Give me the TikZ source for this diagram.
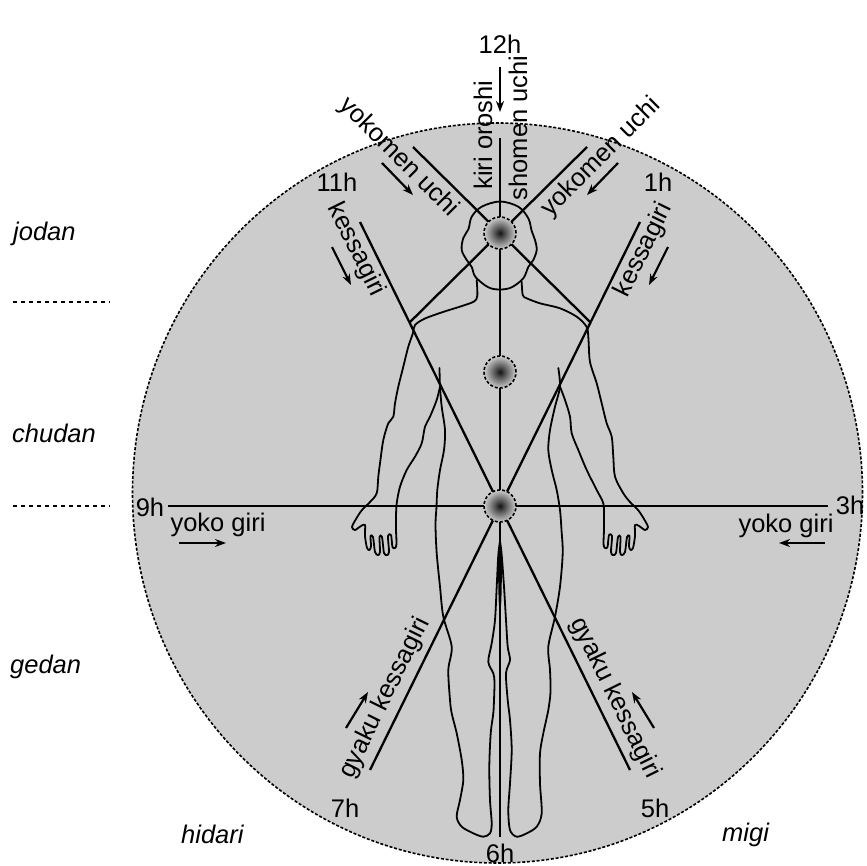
\documentclass[tikz,border=0pt]{standalone}
\usepackage{fontspec}
\setmainfont{Liberation Sans}
\usetikzlibrary{arrows.meta}
% dark core fading to grey at the rim of a vital point
\pgfdeclareradialshading{orb}{\pgfpoint{0bp}{0bp}}{color(0bp)=(black!92); color(10bp)=(black!62); color(25bp)=(black!20); color(50bp)=(black!20)}
\begin{document}
\begin{tikzpicture}[x=1pt,y=-1pt,
  lbl/.style={font=\fontsize{25.5}{30}\selectfont, inner sep=0pt},
  ilbl/.style={font=\fontsize{25.5}{30}\selectfont\itshape, inner sep=0pt},
  cut/.style={line width=2.3pt},
  body/.style={line width=1.8pt, line join=round, line cap=round},
  mv/.style={line width=2.2pt, -{Stealth[length=11pt,width=8pt]}},
  vital/.style={line width=1.6pt, dash pattern=on 3pt off 2pt, shade, shading=orb},
  ring/.style={fill=black!20, line width=1.6pt, dash pattern=on 3pt off 1.8pt},
  level/.style={line width=1.8pt, dash pattern=on 4pt off 4pt}
]
\useasboundingbox (0,0) rectangle (867,866);

% striking area
\draw[ring] (497.5,493) ellipse [x radius=365pt, y radius=370pt];

% key points
\coordinate (hd) at (500,233);
\coordinate (ch) at (500,372);
\coordinate (ha) at (500,506);
\coordinate (top) at (500,138);
\coordinate (bot) at (500,837);
\coordinate (h9) at (168,506);
\coordinate (h3) at (828,506);
\coordinate (kL) at (360,222);
\coordinate (kR) at (640,222);
\coordinate (gL) at (370,770);
\coordinate (gR) at (630,770);
\coordinate (yL) at (413,147);
\coordinate (yR) at (587,147);
\coordinate (yLe) at (intersection of yL--hd and kR--ha);
\coordinate (yRe) at (intersection of yR--hd and kL--ha);

% body outline: head
\draw[body] plot[smooth cycle, tension=0.55] coordinates {
  (471.7,216.7) (468.5,229) (463.3,238) (461.7,250) (466.7,260) (471.7,267)
  (475.5,277) (488.3,287.3) (500,289.5) (511.7,287.3) (523.3,278.3) (528.3,267)
  (533.3,260) (536.7,250) (535,240) (531.7,231) (528.3,218.3) (518.3,206.7)
  (500,201.5) (481.7,206.7)};

% left neck, shoulder, arm and hand
\draw[body] plot[smooth, tension=0.5] coordinates {
  (476.7,280) (477.3,296) (474,301.5) (462,306) (443,312) (425,318.5) (415,325)
  (413,333) (408.3,346.7) (403.3,366.7) (398.3,386.7) (395,403.3) (393.3,416.7)
  (388.3,423.3) (383.3,440) (380,463.3) (378.3,476.7) (376.7,493.3)
  (370,502) (362,510) (356,519) (352,527) (355,530) (361,526) (365,525)
  (365,536) (367,548) (369.5,550) (371,546) (370.5,536)
  (373,537) (375,552) (378,555) (380,552) (379.5,537)
  (382,537) (384,553) (387,555) (389,552) (388,536)
  (391,535) (392.5,547) (395,548) (396.5,544) (396,530) (396,517)
  (396.7,503.3) (400,486.7) (406.7,470) (415,456.7) (421.7,443.3) (425,426.7)
  (430,416.7) (436.7,400) (440,386.7)};

% left flank and leg
\draw[body] plot[smooth, tension=0.5] coordinates {
  (439.5,368) (440,386.7) (441.7,406.7) (445,430) (444,450) (440,470) (437.3,490)
  (436.5,506.7) (435.5,525) (436.7,553.3) (440,586.7) (443.3,616.7) (451.7,646.7)
  (448.3,670) (450,700) (451.7,713.3) (456.7,733.3) (461.7,760) (463.3,780)
  (460,800) (456.7,816.7) (461.7,826.7) (473.3,833.3) (483.3,836.7) (490,833.3)
  (491.7,823.3) (490,800) (489.3,766.7) (490.7,733.3) (493.3,713.3) (494,700)
  (494.5,682) (493.3,673.3) (488.3,661.7) (491.7,643.3) (495,620) (496.7,586.7)
  (498.3,555) (500,541)};

% right neck, shoulder, arm and hand
\draw[body] plot[smooth, tension=0.5] coordinates {
  (521.7,281.7) (522.7,295) (526.7,298.3) (540,303.3) (560,308.3) (576.7,316.7)
  (586.7,327) (588.5,340) (590,362) (596.7,383.3) (601.7,403.3) (606.7,423.3)
  (611.7,436.7) (613.3,456.7) (615,476.7) (623.3,493.3)
  (630,502) (638,510) (644,519) (648,527) (645,530) (639,526) (635,525)
  (635,536) (633,548) (630.5,550) (629,546) (629.5,536)
  (627,537) (625,552) (622,555) (620,552) (620.5,537)
  (618,537) (616,553) (613,555) (611,552) (612,536)
  (609,535) (607.5,547) (605,548) (603.5,544) (604,530) (604,517)
  (603.3,503.3) (596.7,490) (586.7,470) (578.3,450) (571.7,433.3) (570,416.7)
  (565,400) (560,386.7)};

% right flank and leg
\draw[body] plot[smooth, tension=0.5] coordinates {
  (558.3,368) (560,386.7) (555,406.7) (550,430) (548.3,450) (551.7,470) (556.7,490)
  (560,510) (561.5,530) (562.7,553) (560,586.7) (555,616.7) (548.3,646.7) (550,670)
  (550.5,692) (548.3,710) (543.3,733.3) (540,753.3) (540,783.3) (541.7,813.3)
  (536.7,826.7) (526.7,833.3) (516.7,836.7) (510,830) (508.3,810) (510,783.3)
  (511.7,750) (510,720) (507.7,700) (506,673.3) (510,660) (507.7,646.7) (506,620)
  (504,586.7) (501.7,555) (500,541)};

% crotch
\fill[black] (500,540) -- (497.8,560) -- (498.6,600) -- (500,618) -- (501.4,600) -- (502.2,560) -- cycle;

% cutting lines
\draw[cut] (top) -- (bot);
\draw[cut] (h9) -- (h3);
\draw[cut] (yL) -- (hd) -- (yLe);
\draw[cut] (yR) -- (hd) -- (yRe);
\draw[cut] (kL) -- (ha) -- (gR);
\draw[cut] (kR) -- (ha) -- (gL);

% vital points
\draw[vital] (hd) circle (16pt);
\draw[vital] (ch) circle (16pt);
\draw[vital] (ha) circle (16pt);

% clock positions
\node[lbl] (n12) at (500,44) {12h};
\node[lbl] (n11) at (337,182) {11h};
\node[lbl] (n1) at (658,182) {1h};
\node[lbl] (n9) at (150,507) {9h};
\node[lbl] (n3) at (850,505) {3h};
\node[lbl] (n7) at (345,808) {7h};
\node[lbl] (n5) at (655,808) {5h};
\node[lbl] (n6) at (500,853) {6h};

% names of the cuts
\node[lbl, rotate=90] (kiri) at (483,135) {kiri oroshi};
\node[lbl, rotate=90] (shomen) at (518,128) {shomen uchi};
\node[lbl, rotate=-45] (yokoL) at (399,157) {yokomen uchi};
\node[lbl, rotate=45] (yokoR) at (601,157) {yokomen uchi};
\node[lbl, rotate=-63.8] (kesL) at (356,250) {kessagiri};
\node[lbl, rotate=63.8] (kesR) at (644,250) {kessagiri};
\node[lbl] (ygL) at (218,525) {yoko giri};
\node[lbl] (ygR) at (786,526) {yoko giri};
\node[lbl, rotate=63.8] (gyL) at (385,698) {gyaku kessagiri};
\node[lbl, rotate=-63.8] (gyR) at (615,698) {gyaku kessagiri};

% levels and sides
\node[ilbl, anchor=base west] (jodan) at (13,241) {jodan};
\node[ilbl, anchor=base west] (chudan) at (12,442) {chudan};
\node[ilbl, anchor=base west] (gedan) at (10,673) {gedan};
\node[ilbl, anchor=base west] (hidari) at (181,843) {hidari};
\node[ilbl, anchor=base west] (migi) at (722,841) {migi};
\coordinate (l1a) at (13,302);
\coordinate (l1b) at (110,302);
\coordinate (l2a) at (13,506);
\coordinate (l2b) at (110,506);
\draw[level] (l1a) -- (l1b);
\draw[level] (l2a) -- (l2b);

% direction arrows
\coordinate (a12s) at (500,67);   \coordinate (a12e) at (500,112);
\coordinate (ayLs) at (382,163);  \coordinate (ayLe) at (413,195);
\coordinate (ayRs) at (618,163);  \coordinate (ayRe) at (587,195);
\coordinate (akLs) at (332,247);  \coordinate (akLe) at (351,285);
\coordinate (akRs) at (668,247);  \coordinate (akRe) at (649,285);
\coordinate (ahLs) at (179,543);  \coordinate (ahLe) at (226,543);
\coordinate (ahRs) at (825,543);  \coordinate (ahRe) at (779,543);
\coordinate (agLs) at (346,728);  \coordinate (agLe) at (368,692);
\coordinate (agRs) at (654,728);  \coordinate (agRe) at (632,692);
\draw[mv] (a12s) -- (a12e);
\draw[mv] (ayLs) -- (ayLe);
\draw[mv] (ayRs) -- (ayRe);
\draw[mv] (akLs) -- (akLe);
\draw[mv] (akRs) -- (akRe);
\draw[mv] (ahLs) -- (ahLe);
\draw[mv] (ahRs) -- (ahRe);
\draw[mv] (agLs) -- (agLe);
\draw[mv] (agRs) -- (agRe);
\end{tikzpicture}
\end{document}
